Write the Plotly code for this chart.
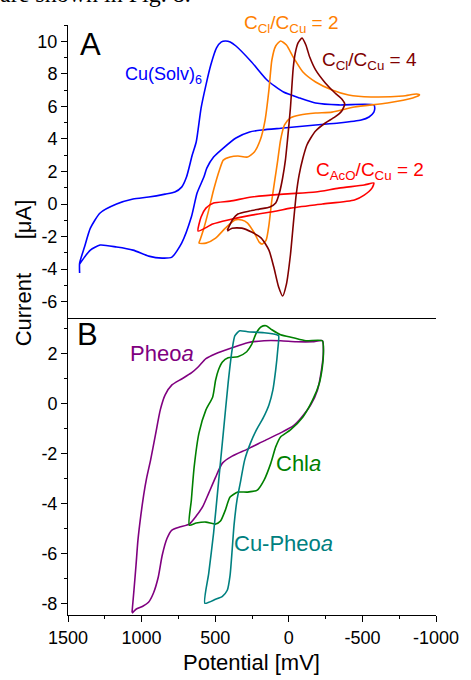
import plotly.graph_objects as go

# ---------------- Panel A data (Potential mV, Current uA) ----------------
cu_solv_E = [1421, 1421, 1388, 1348, 1282, 1170, 1058, 952, 840, 774, 728, 695, 656, 629, 596, 563, 530, 491, 458, 431,
             398, 359, 253, 148, 36, -76, -182, -340, -578, -584, -578, -545, -492, -340, -182, 36, 181, 266, 359, 445,
             511, 557, 577, 623, 662, 728, 794, 860, 952, 1058, 1170, 1282, 1348, 1388, 1421]
cu_solv_I = [-4.24, -3.63, -2.64, -1.48, -0.55, 0.0, 0.31, 0.43, 0.61, 0.74, 1.04, 1.66, 3.01, 3.81, 5.90, 7.31, 8.54, 9.59, 9.96, 10.02,
             9.96, 9.71, 8.73, 7.62, 6.88, 6.51, 6.21, 6.09, 6.09, 5.90, 5.65, 5.35, 5.16, 4.98, 4.86, 4.67, 4.55, 4.43, 4.06, 3.44,
             2.89, 2.21, 1.66, 0.68, -0.80, -2.40, -3.26, -3.32, -3.20, -2.83, -2.64, -2.52, -2.83, -3.26, -3.69]

cl2_E = [610, 563, 497, 431, 366, 319, 280, 234, 201, 181, 154, 135, 115, 95, 75, 56, 29, -11, -76, -182,
         -294, -446, -670, -842, -888, -868, -776, -558, -406, -294, -182, -96, -30, 16, 56, 89, 115, 135, 161, 194,
         234, 280, 346, 399, 445, 471, 511, 544, 577, 603, 610]
cl2_I = [-2.40, -2.40, -2.09, -1.48, -0.98, -0.98, -1.17, -1.78, -2.34, -2.46, -2.21, -1.29, 0.25, 1.48, 2.70, 3.93, 4.86, 5.29, 5.47, 5.59,
         5.65, 5.96, 6.21, 6.52, 6.70, 6.76, 6.64, 6.58, 6.70, 7.01, 7.50, 8.11, 9.03, 9.77, 10.02, 9.71, 8.85, 7.01, 5.16, 3.93,
         3.20, 2.89, 2.95, 2.89, 2.70, 2.09, 0.86, -0.37, -1.48, -2.21, -2.40]

cl4_E = [418, 385, 319, 253, 187, 135, 102, 69, 42, 16, -11, -30, -50, -70, -96, -123, -149, -182, -248, -314,
         -360, -380, -360, -314, -248, -182, -142, -116, -90, -63, -44, -30, -11, 9, 23, 42, 62, 89, 128, 201,
         267, 346, 379, 418]
cl4_I = [-1.66, -1.48, -1.48, -1.72, -2.09, -2.83, -3.87, -5.10, -5.65, -4.92, -3.13, -1.29, 0.55, 1.78, 2.83, 3.63, 4.06, 4.49, 4.98, 5.35,
         5.72, 6.15, 6.45, 6.82, 7.44, 8.24, 9.03, 9.77, 10.2, 9.90, 9.28, 8.36, 5.90, 3.93, 2.70, 1.60, 0.74, 0.06, -0.18, -0.31,
         -0.43, -0.61, -0.92, -1.60]

aco2_E = [616, 596, 563, 511, 399, 253, 36, -182, -340, -512, -578, -565, -512, -446, -228, -11, 82, 253, 412, 517, 616]
aco2_I = [-1.66, -0.80, -0.25, 0.06, 0.18, 0.43, 0.61, 0.74, 0.98, 1.17, 1.29, 0.98, 0.55, 0.25, 0.0, -0.25, -0.43, -0.68, -0.98, -1.23, -1.66]

# ---------------- Panel B data ----------------
pheo_E = [1065, 1052, 1038, 1025, 1005, 986, 966, 939, 906, 873, 840, 794, 728, 662, 616, 563, 497, 385, 280, 168,
          56, -50, -162, -228, -235, -222, -195, -149, -83, -30, 56, 168, 280, 385, 451, 497, 544, 583, 629, 676,
          742, 794, 827, 860, 887, 920, 953, 992, 1038, 1065]
pheo_I = [-8.34, -7.46, -6.46, -5.46, -4.45, -3.65, -2.97, -2.25, -1.24, -0.24, 0.36, 0.76, 1.00, 1.24, 1.48, 1.81, 2.01, 2.25, 2.45, 2.53,
          2.53, 2.49, 2.49, 2.53, 2.09, 1.36, 0.56, -0.04, -0.56, -0.88, -1.16, -1.48, -1.81, -2.09, -2.37, -2.93, -3.57, -4.09, -4.49, -4.81,
          -4.93, -5.05, -5.38, -6.06, -6.94, -7.58, -7.94, -8.10, -8.22, -8.38]

chl_E = [676, 662, 643, 610, 563, 517, 497, 478, 451, 412, 346, 286, 253, 220, 187, 154, 115, 56, -30, -116,
         -228, -235, -228, -208, -162, -96, -11, 56, 89, 122, 168, 214, 280, 346, 399, 431, 464, 497, 563, 629, 676]
chl_I = [-4.85, -3.85, -2.53, -1.16, -0.24, 0.28, 0.96, 1.36, 1.68, 1.85, 1.89, 2.09, 2.37, 2.85, 3.09, 3.13, 2.97, 2.77, 2.65, 2.53,
         2.53, 1.97, 1.48, 0.84, 0.16, -0.52, -1.04, -1.32, -1.72, -2.37, -3.05, -3.45, -3.53, -3.53, -3.73, -4.25, -4.69, -4.81, -4.73, -4.77, -4.85]

cupheo_E = [570, 544, 511, 478, 445, 412, 385, 366, 333, 280, 168, 82, 69, 75, 89, 108, 135, 174, 220, 260,
            300, 326, 352, 372, 385, 399, 418, 451, 497, 570]
cupheo_I = [-7.98, -6.78, -5.17, -3.17, -1.16, 0.84, 2.17, 2.73, 2.93, 2.89, 2.85, 2.77, 2.73, 2.17, 1.36, 0.56, -0.04, -0.56, -1.04, -1.56,
            -2.25, -3.05, -3.85, -4.85, -5.86, -6.86, -7.46, -7.70, -7.82, -7.98]

x_ticks = [1500, 1000, 500, 0, -500, -1000]
x_tick_text = ["1500", "1000", "500", "0", "-500", "-1000"]
ya_ticks = [-6, -4, -2, 0, 2, 4, 6, 8, 10]
ya_tick_text = ["-6", "-4", "-2", "0", "2", "4", "6", "8", "10"]
yb_ticks = [-8, -6, -4, -2, 0, 2]
yb_tick_text = ["-8", "-6", "-4", "-2", "0", "2"]

# ---------------- geometry (pixels) ----------------
W, H = 471, 680
L, R, T, B = 68, 447, 25, 615
SPLIT = 318


def px(xp):
    return (xp - L) / (R - L)


def py(yp):
    return (B - yp) / (B - T)


FONT = "Liberation Sans, Arial, sans-serif"

fig = go.Figure()

series_a = [
    (cu_solv_E, cu_solv_I, "#0000FF"),
    (cl2_E, cl2_I, "#FF8000"),
    (aco2_E, aco2_I, "#FF0000"),
    (cl4_E, cl4_I, "#800000"),
]
for xe, yi, c in series_a:
    fig.add_trace(go.Scatter(x=xe, y=yi, mode="lines", xaxis="x", yaxis="y",
                             line=dict(color=c, width=1.6, shape="spline", smoothing=0.6),
                             showlegend=False, hoverinfo="skip"))

series_b = [
    (pheo_E, pheo_I, "#800080"),
    (chl_E, chl_I, "#008000"),
    (cupheo_E, cupheo_I, "#008080"),
]
for xe, yi, c in series_b:
    fig.add_trace(go.Scatter(x=xe, y=yi, mode="lines", xaxis="x2", yaxis="y2",
                             line=dict(color=c, width=1.6, shape="spline", smoothing=0.6),
                             showlegend=False, hoverinfo="skip"))

split_frac = py(SPLIT)

line_common = dict(showgrid=False, zeroline=False, linecolor="black", linewidth=1)
tickfont = dict(family=FONT, size=18, color="black")

fig.update_layout(
    width=W, height=H,
    margin=dict(l=L, r=W - R, t=T, b=H - B),
    paper_bgcolor="white", plot_bgcolor="white",
    hovermode=False,
    xaxis=dict(domain=[0, 1], anchor="y", range=[1500, -1000], showticklabels=False,
               ticks="", showline=True, **line_common),
    yaxis=dict(domain=[split_frac, 1], anchor="x", range=[-7, 11], tickvals=ya_ticks, ticktext=ya_tick_text,
               ticks="outside", ticklen=6, tickwidth=1, tickcolor="black", showline=True, tickfont=tickfont,
               minor=dict(tickvals=[-5, -3, -1, 1, 3, 5, 7, 9, 11], ticks="outside", ticklen=3, tickcolor="black"),
               **line_common),
    xaxis2=dict(domain=[0, 1], anchor="y2", range=[1500, -1000], tickvals=x_ticks, ticktext=x_tick_text,
                ticks="outside", ticklen=6, tickwidth=1, tickcolor="black", showline=True, tickfont=tickfont,
                minor=dict(tickvals=[1250, 750, 250, -250, -750], ticks="outside", ticklen=3, tickcolor="black"),
                **line_common),
    yaxis2=dict(domain=[0, split_frac], anchor="x2", range=[-8.45, 3.44], tickvals=yb_ticks, ticktext=yb_tick_text,
                ticks="outside", ticklen=6, tickwidth=1, tickcolor="black", showline=True, tickfont=tickfont,
                minor=dict(tickvals=[-7, -5, -3, -1, 1, 3], ticks="outside", ticklen=3, tickcolor="black"),
                **line_common),
)

ann = []


def add_text(text, xp, yp, size, color, xanchor="left", yanchor="middle", angle=0, family=FONT):
    ann.append(dict(text=text, x=px(xp), y=py(yp), xref="paper", yref="paper",
                    xanchor=xanchor, yanchor=yanchor, showarrow=False, textangle=angle,
                    font=dict(family=family, size=size, color=color)))


# clipped page text above the figure
add_text("are shown in Fig. 8.", -4, 9, 24, "black", yanchor="bottom", family="Liberation Serif, Times New Roman, serif")

add_text("A", 78, 44, 31, "black")
add_text("B", 75, 334, 31, "black")
add_text("Cu(Solv)<sub>6</sub>", 125, 76, 18, "#0000FF")
add_text("C<sub>Cl</sub>/C<sub>Cu</sub> = 2", 247, 24, 19, "#FF8000")
add_text("C<sub>Cl</sub>/C<sub>Cu</sub> = 4", 328, 61, 19, "#800000")
add_text("C<sub>AcO</sub>/C<sub>Cu</sub> = 2", 321, 171, 19, "#FF0000")
add_text("Pheo<i>a</i>", 130, 353, 22, "#800080")
add_text("Chl<i>a</i>", 280, 464, 22, "#008000")
add_text("Cu-Pheo<i>a</i>", 237, 543, 22, "#008080")

add_text("Potential [mV]", 257, 662, 22, "black", xanchor="center")
add_text("Current", 22, 310, 22, "black", xanchor="center", angle=-90)
add_text("[μA]", 22, 219, 22, "black", xanchor="center", angle=-90)

fig.update_layout(annotations=ann)

fig.write_html("out.html", config={"displayModeBar": False, "staticPlot": True},
               post_script="document.body.style.margin='0';document.body.style.overflow='hidden';")
